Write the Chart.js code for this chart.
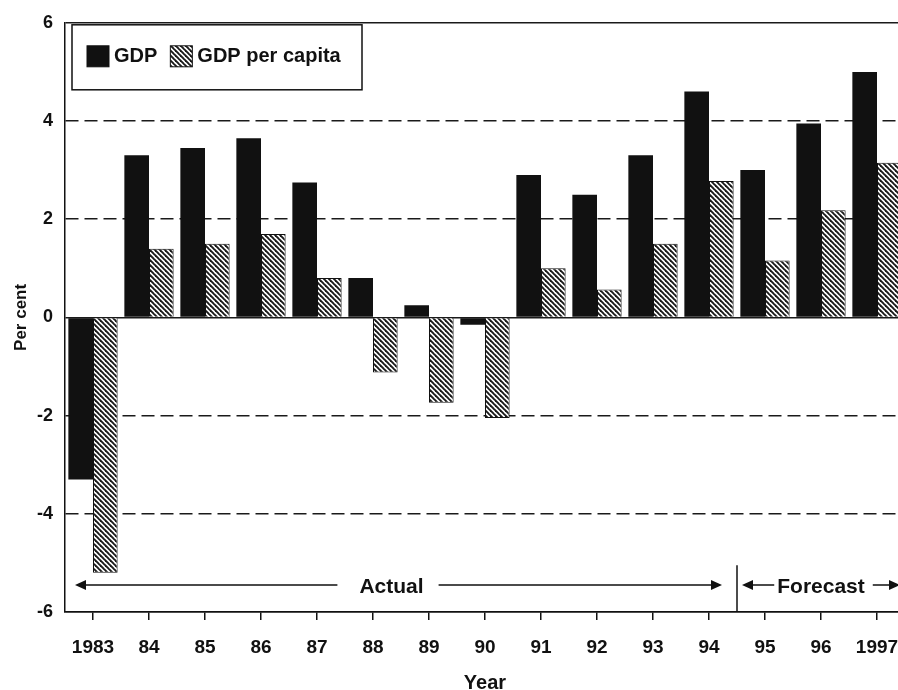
<!DOCTYPE html>
<html>
<head>
<meta charset="utf-8">
<script src="https://cdn.jsdelivr.net/npm/chart.js@4/dist/chart.umd.min.js"></script>
<style>
  html, body { margin: 0; padding: 0; background: #fff; overflow: hidden; }
  #wrap { width: 920px; height: 690px; }
</style>
</head>
<body>
<div id="wrap"><canvas id="gdpChart" width="920" height="690"></canvas></div>
<script>
const years = ['1983', '84', '85', '86', '87', '88', '89', '90', '91', '92', '93', '94', '95', '96', '1997'];
const gdp = [-3.3, 3.3, 3.45, 3.65, 2.75, 0.8, 0.25, -0.15, 2.9, 2.5, 3.3, 4.6, 3.0, 3.95, 5.0];
const gdpPerCapita = [-5.2, 1.4, 1.5, 1.7, 0.8, -1.12, -1.74, -2.05, 1.0, 0.57, 1.5, 2.78, 1.16, 2.18, 3.15];
const yTicks = [-6, -4, -2, 0, 2, 4, 6];
const lastActual = 11; // 1994 is the last actual year, forecasts follow

const FONT = '"Liberation Sans", Arial, Helvetica, sans-serif';
Chart.defaults.font.family = FONT;
Chart.defaults.color = '#111';

// diagonal hatching for the per-capita bars
function makeHatch() {
  const s = 5;
  const c = document.createElement('canvas');
  c.width = s; c.height = s;
  const g = c.getContext('2d');
  g.fillStyle = '#fff';
  g.fillRect(0, 0, s, s);
  g.strokeStyle = '#1a1a1a';
  g.lineWidth = 1.9;
  for (let k = -1; k <= 1; k++) {
    g.beginPath();
    g.moveTo(k * s - 1, -1);
    g.lineTo(k * s + s + 1, s + 1);
    g.stroke();
  }
  return g.createPattern(c, 'repeat');
}
const hatch = makeHatch();

function arrowHead(ctx, x, y, dir) {
  ctx.beginPath();
  ctx.moveTo(x, y);
  ctx.lineTo(x - dir * 11, y - 5);
  ctx.lineTo(x - dir * 11, y + 5);
  ctx.closePath();
  ctx.fill();
}

// boxed legend in the top-left corner of the plot
const boxLegend = {
  id: 'boxLegend',
  afterDatasetsDraw(chart) {
    const ctx = chart.ctx;
    const a = chart.chartArea;
    const x = a.left + 7, y = a.top + 2, w = 290, h = 65;
    ctx.save();
    ctx.fillStyle = '#fff';
    ctx.fillRect(x, y, w, h);
    ctx.strokeStyle = '#111';
    ctx.lineWidth = 1.5;
    ctx.strokeRect(x, y, w, h);
    ctx.font = 'bold 20px ' + FONT;
    ctx.textBaseline = 'middle';
    let cx = x + 15;
    const cy = y + 31;
    chart.data.datasets.forEach(ds => {
      ctx.fillStyle = ds.backgroundColor;
      ctx.fillRect(cx, cy - 10, 22, 21);
      ctx.strokeStyle = '#111';
      ctx.lineWidth = 1;
      ctx.strokeRect(cx, cy - 10, 22, 21);
      ctx.fillStyle = '#111';
      ctx.textAlign = 'left';
      ctx.fillText(ds.label, cx + 27, cy + 1);
      cx += 27 + ctx.measureText(ds.label).width + 13;
    });
    ctx.restore();
  }
};

// "Actual" / "Forecast" spans along the bottom of the plot
const periodMarks = {
  id: 'periodMarks',
  afterDraw(chart) {
    const ctx = chart.ctx;
    const xs = chart.scales.x, ys = chart.scales.y;
    const a = chart.chartArea;
    const sepX = Math.round(xs.getPixelForValue(lastActual + 0.5));
    const ay = ys.getPixelForValue(-5.45);
    ctx.save();
    ctx.strokeStyle = '#111';
    ctx.fillStyle = '#111';
    ctx.lineWidth = 1.5;
    // separator between actual and forecast years
    ctx.beginPath();
    ctx.moveTo(sepX, ys.getPixelForValue(-5.05));
    ctx.lineTo(sepX, a.bottom);
    ctx.stroke();

    ctx.font = 'bold 21px ' + FONT;
    ctx.textAlign = 'center';
    ctx.textBaseline = 'middle';

    // Actual
    const l1 = a.left + 10, r1 = sepX - 15;
    const t1 = (l1 + r1) / 2 - 7;
    const w1 = ctx.measureText('Actual').width;
    ctx.fillText('Actual', t1, ay + 2);
    ctx.beginPath();
    ctx.moveTo(l1 + 6, ay); ctx.lineTo(t1 - w1 / 2 - 22, ay);
    ctx.moveTo(t1 + w1 / 2 + 15, ay); ctx.lineTo(r1 - 6, ay);
    ctx.stroke();
    arrowHead(ctx, l1, ay, -1);
    arrowHead(ctx, r1, ay, 1);

    // Forecast
    const l2 = sepX + 5, r2 = a.right - 5;
    const t2 = xs.getPixelForValue(13);
    const w2 = ctx.measureText('Forecast').width;
    ctx.fillText('Forecast', t2, ay + 2);
    ctx.beginPath();
    ctx.moveTo(l2 + 6, ay); ctx.lineTo(t2 - w2 / 2 - 3, ay);
    ctx.moveTo(t2 + w2 / 2 + 8, ay); ctx.lineTo(r2 - 6, ay);
    ctx.stroke();
    arrowHead(ctx, l2, ay, -1);
    arrowHead(ctx, r2, ay, 1);
    ctx.restore();
  }
};

new Chart(document.getElementById('gdpChart'), {
  type: 'bar',
  data: {
    labels: years,
    datasets: [
      {
        label: 'GDP',
        data: gdp,
        backgroundColor: '#111',
        borderWidth: 0
      },
      {
        label: 'GDP per capita',
        data: gdpPerCapita,
        backgroundColor: hatch,
        borderColor: '#111',
        borderWidth: 1
      }
    ]
  },
  options: {
    responsive: false,
    animation: false,
    layout: { padding: { top: 20, right: 15, left: 0, bottom: 0 } },
    categoryPercentage: 0.88,
    barPercentage: 1.0,
    plugins: {
      legend: { display: false },
      tooltip: { enabled: false }
    },
    scales: {
      x: {
        offset: true,
        grid: {
          offset: false,
          drawOnChartArea: false,
          drawTicks: true,
          tickLength: 8,
          color: '#111',
          lineWidth: 1.5
        },
        border: { color: '#111', width: 1.5 },
        ticks: {
          font: { size: 19, weight: 'bold' },
          color: '#111',
          padding: 16,
          maxRotation: 0,
          autoSkip: false
        },
        title: {
          display: true,
          text: 'Year',
          font: { size: 20, weight: 'bold' },
          color: '#111',
          padding: { top: 2, bottom: -5 }
        },
        afterFit(scale) { scale.height = 78; }
      },
      y: {
        min: -6,
        max: 6,
        afterBuildTicks(scale) { scale.ticks = yTicks.map(v => ({ value: v })); },
        grid: {
          drawTicks: false,
          color: '#1a1a1a',
          lineWidth: 1.5
        },
        border: {
          color: '#111',
          width: 1.5,
          dash: ctx => (ctx.tick && ctx.tick.value % 6 !== 0) ? [13, 6] : []
        },
        ticks: {
          font: { size: 18, weight: 'bold' },
          color: '#111',
          padding: 12
        },
        title: {
          display: true,
          text: 'Per cent',
          font: { size: 17, weight: 'bold' },
          color: '#111',
          padding: 11
        },
        afterFit(scale) { scale.width = 65; }
      }
    }
  },
  plugins: [boxLegend, periodMarks]
});
</script>
</body>
</html>
